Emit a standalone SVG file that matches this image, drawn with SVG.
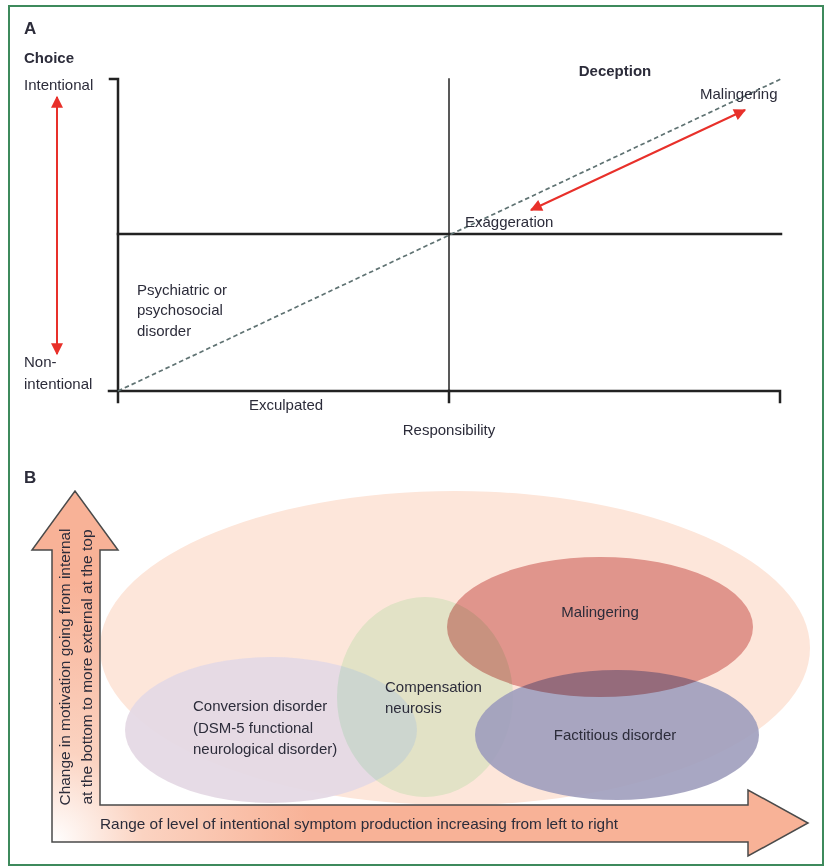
<svg xmlns="http://www.w3.org/2000/svg" width="827" height="867" viewBox="0 0 827 867">
<style>
text{font-family:"Liberation Sans",Arial,sans-serif;font-size:15px;fill:#2c2c3a}
.b{font-weight:bold}
.h{font-size:17px;font-weight:bold}
.ax{stroke:#222;fill:none;stroke-linecap:square}
.red{stroke:#e8302a;stroke-width:2;fill:none}
.mul{mix-blend-mode:multiply}
</style>
<defs>
<marker id="rh" viewBox="0 0 10 10" refX="9" refY="5" markerWidth="6.5" markerHeight="6" orient="auto-start-reverse" markerUnits="strokeWidth">
<path d="M0,0 L10,5 L0,10 Z" fill="#e8302a"/>
</marker>
<radialGradient id="ag" gradientUnits="userSpaceOnUse" cx="52" cy="842" r="260">
<stop offset="0" stop-color="#ffffff"/>
<stop offset="0.35" stop-color="#fbd3c1"/>
<stop offset="1" stop-color="#f8b297"/>
</radialGradient>
</defs>
<rect x="9" y="6" width="814" height="859" fill="#fff" stroke="#3e8a5c" stroke-width="2"/>

<g id="panelA">
<text class="h" x="24" y="34">A</text>
<g id="axes">
<path class="ax" stroke-width="2.5" d="M110,79 H118 V402"/>
<path class="ax" stroke-width="2.5" d="M109,391 H780 V402"/>
<path class="ax" stroke-width="2.5" d="M449,391 V402"/>
<path class="ax" stroke-width="1.5" d="M449,79 V391"/>
<path class="ax" stroke-width="2.5" d="M118,234 H781"/>
</g>
<g id="connectors">
<line x1="118" y1="391" x2="783" y2="78" stroke="#5f7272" stroke-width="1.7" stroke-dasharray="4.5,3"/>
<line class="red" x1="531" y1="210" x2="745" y2="110" marker-start="url(#rh)" marker-end="url(#rh)"/>
<line class="red" x1="57" y1="97" x2="57" y2="354" marker-start="url(#rh)" marker-end="url(#rh)"/>
</g>
<g id="labelsA">
<text class="b" x="24" y="63">Choice</text>
<text x="24" y="90">Intentional</text>
<text x="24" y="367">Non-</text>
<text x="24" y="389">intentional</text>
<text class="b" x="615" y="76" text-anchor="middle">Deception</text>
<text x="700" y="99">Malingering</text>
<text x="465" y="227">Exaggeration</text>
<text x="137" y="295">Psychiatric or</text>
<text x="137" y="315">psychosocial</text>
<text x="137" y="336">disorder</text>
<text x="286" y="410" text-anchor="middle">Exculpated</text>
<text x="449" y="435" text-anchor="middle">Responsibility</text>
</g>
</g>

<g id="panelB">
<text class="h" x="24" y="483">B</text>
<g id="ellipses">
<ellipse id="overall" cx="455" cy="648" rx="355" ry="157" fill="#fde6da"/>
<g id="conversion"><ellipse cx="271" cy="730" rx="146" ry="73" fill="#e5d9e5" opacity="0.95"/></g>
<g id="compensation"><ellipse class="mul" cx="425" cy="697" rx="88" ry="100" fill="#e4fbe8"/></g>
<g id="factitious"><ellipse cx="617" cy="735" rx="142" ry="65" fill="#9e9dbd" opacity="0.9"/></g>
<g id="malingering"><ellipse class="mul" cx="600" cy="627" rx="153" ry="70" fill="#e2a5a4"/></g>
</g>
<g id="bigarrow">
<path d="M52,842 L52,550 L32,550 L75,491 L118,550 L100,550 L100,805 L748,805 L748,790 L808,823 L748,856 L748,842 Z" fill="url(#ag)" stroke="#4a4a4a" stroke-width="1.5" stroke-linejoin="miter"/>
</g>
<g id="labelsB">
<text x="193" y="711">Conversion disorder</text>
<text x="193" y="733">(DSM-5 functional</text>
<text x="193" y="754">neurological disorder)</text>
<text x="385" y="692">Compensation</text>
<text x="385" y="713">neurosis</text>
<text x="600" y="617" text-anchor="middle">Malingering</text>
<text x="615" y="740" text-anchor="middle">Factitious disorder</text>
<text x="100" y="829" textLength="518" lengthAdjust="spacingAndGlyphs">Range of level of intentional symptom production increasing from left to right</text>
<text transform="translate(70,667) rotate(-90)" text-anchor="middle" textLength="277" lengthAdjust="spacingAndGlyphs">Change in motivation going from internal</text>
<text transform="translate(92,667) rotate(-90)" text-anchor="middle" textLength="275" lengthAdjust="spacingAndGlyphs">at the bottom to more external at the top</text>
</g>
</g>
</svg>
